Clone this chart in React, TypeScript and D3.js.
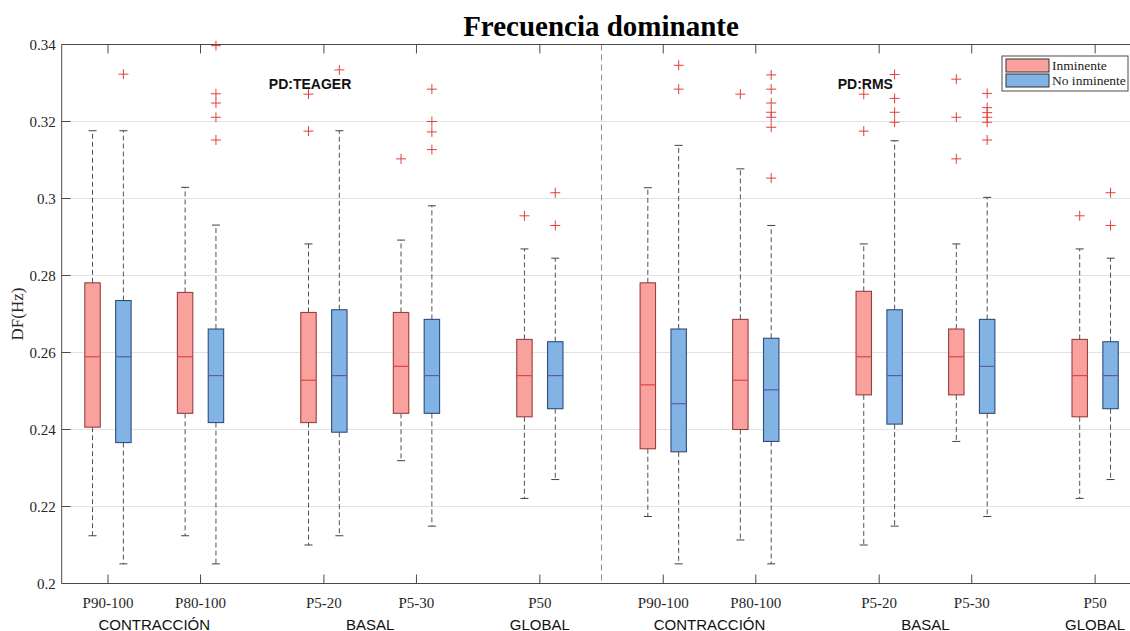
import React from "react";
import * as d3 from "d3";

// ---------- data ----------
const categories = ["P90-100", "P80-100", "P5-20", "P5-30", "P50"];
const panels = ["PD:TEAGER", "PD:RMS"];
const seriesNames = ["Inminente", "No inminente"];
const sections = [
  { label: "CONTRACCIÓN", from: 0, to: 1 },
  { label: "BASAL", from: 2, to: 3 },
  { label: "GLOBAL", from: 4, to: 4 },
];
const yTicks = [0.2, 0.22, 0.24, 0.26, 0.28, 0.3, 0.32, 0.34];

// [lower whisker, q1, median, q3, upper whisker] per category
const teagerInminente = [
  [0.2124, 0.2406, 0.2589, 0.2781, 0.3176],
  [0.2124, 0.2442, 0.2589, 0.2756, 0.3029],
  [0.21, 0.2418, 0.2528, 0.2704, 0.2882],
  [0.2319, 0.2442, 0.2564, 0.2704, 0.2892],
  [0.2221, 0.2433, 0.254, 0.2634, 0.2869],
];
const teagerInminenteOut = [[], [], [0.3271, 0.3175], [0.3103], [0.2955]];

const teagerNoInminente = [
  [0.2051, 0.2366, 0.2589, 0.2735, 0.3176],
  [0.2051, 0.2418, 0.254, 0.2661, 0.2931],
  [0.2124, 0.2393, 0.254, 0.2711, 0.3176],
  [0.2149, 0.2442, 0.254, 0.2686, 0.2981],
  [0.227, 0.2454, 0.254, 0.2628, 0.2845],
];
const teagerNoInminenteOut = [
  [0.3323],
  [0.3397, 0.3272, 0.3248, 0.3211, 0.3152],
  [0.3334],
  [0.3284, 0.32, 0.3173, 0.3127],
  [0.3015, 0.293],
];

const rmsInminente = [
  [0.2174, 0.235, 0.2516, 0.2781, 0.3028],
  [0.2113, 0.24, 0.2528, 0.2686, 0.3077],
  [0.21, 0.249, 0.2589, 0.2759, 0.2882],
  [0.2369, 0.249, 0.2589, 0.2661, 0.2882],
  [0.2221, 0.2433, 0.254, 0.2634, 0.2869],
];
const rmsInminenteOut = [[], [0.3271], [0.3271, 0.3175], [0.331, 0.3211, 0.3103], [0.2955]];

const rmsNoInminente = [
  [0.2051, 0.2342, 0.2467, 0.2661, 0.3138],
  [0.2051, 0.2369, 0.2503, 0.2637, 0.293],
  [0.2149, 0.2414, 0.254, 0.2711, 0.315],
  [0.2174, 0.2442, 0.2564, 0.2686, 0.3003],
  [0.227, 0.2454, 0.254, 0.2628, 0.2845],
];
const rmsNoInminenteOut = [
  [0.3346, 0.3284],
  [0.3321, 0.3284, 0.3248, 0.3224, 0.3211, 0.3185, 0.3053],
  [0.3322, 0.326, 0.3224, 0.3198],
  [0.3273, 0.3236, 0.3223, 0.3211, 0.3198, 0.3152],
  [0.3015, 0.293],
];

const panelStats = [
  [teagerInminente, teagerNoInminente],
  [rmsInminente, rmsNoInminente],
];
const panelOutliers = [
  [teagerInminenteOut, teagerNoInminenteOut],
  [rmsInminenteOut, rmsNoInminenteOut],
];

// ---------- layout ----------
const W = 1130;
const H = 631;
const slotUnits = [0, 3, 7, 10, 14];
const panelStart = [1, 19];
const seriesOffset = [-0.5, 0.5];
const boxHalf = 0.25;
const fills = ["#f8a19d", "#82b3e5"];
const edges = ["#9a3e3e", "#2d4c7c"];
const medians = ["#e0463f", "#5a5ea8"];
const serif = "'Liberation Serif', 'Times New Roman', serif";
const sans = "'Liberation Sans', Arial, sans-serif";

export default function App() {
  const x = d3.scaleLinear().domain([-0.5, 34.5]).range([61.7, 1141.4]);
  const y = d3.scaleLinear().domain([0.2, 0.34]).range([583.5, 44.5]);
  const [x0, x1] = x.range();
  const [yb, yt] = y.range();
  const capHalf = 4;
  const tickLen = 9;

  const tickPositions: number[] = [];
  panels.forEach((_, p) => slotUnits.forEach((u) => tickPositions.push(panelStart[p] + u)));
  const divider = (panelStart[0] + slotUnits[4] + panelStart[1]) / 2;

  return (
    <div style={{ position: "absolute", left: 0, top: 0 }}>
      <svg width={W} height={H} style={{ display: "block", background: "#fff" }}>
        <rect x={0} y={0} width={W} height={H} fill="#fff" />
        {/* grid */}
        {yTicks.map((t) => (
          <line key={"g" + t} x1={x0} x2={x1} y1={y(t)} y2={y(t)} stroke="#e2e2e2" strokeWidth={1} />
        ))}
        {/* divider */}
        <line x1={x(divider)} x2={x(divider)} y1={yt} y2={yb} stroke="#8a8a8a" strokeWidth={1} strokeDasharray="6,4" />

        {/* boxes */}
        {panels.map((_, p) =>
          panelStats[p].map((series, s) =>
            series.map((st, c) => {
              const cx = x(panelStart[p] + slotUnits[c] + seriesOffset[s]);
              const bl = x(panelStart[p] + slotUnits[c] + seriesOffset[s] - boxHalf);
              const br = x(panelStart[p] + slotUnits[c] + seriesOffset[s] + boxHalf);
              const [lo, q1, med, q3, hi] = st;
              return (
                <g key={`b${p}-${s}-${c}`}>
                  <line x1={cx} x2={cx} y1={y(q3)} y2={y(hi)} stroke="#505050" strokeWidth={1} strokeDasharray="5,3" />
                  <line x1={cx} x2={cx} y1={y(q1)} y2={y(lo)} stroke="#505050" strokeWidth={1} strokeDasharray="5,3" />
                  <line x1={cx - capHalf} x2={cx + capHalf} y1={y(hi)} y2={y(hi)} stroke="#404040" strokeWidth={1} />
                  <line x1={cx - capHalf} x2={cx + capHalf} y1={y(lo)} y2={y(lo)} stroke="#404040" strokeWidth={1} />
                  <rect x={bl} y={y(q3)} width={br - bl} height={y(q1) - y(q3)} fill={fills[s]} stroke={edges[s]} strokeWidth={1.1} />
                  <line x1={bl} x2={br} y1={y(med)} y2={y(med)} stroke={medians[s]} strokeWidth={1.2} />
                  {panelOutliers[p][s][c].map((o, k) => (
                    <g key={k} stroke="#e04038" strokeWidth={1}>
                      <line x1={cx - 5} x2={cx + 5} y1={y(o)} y2={y(o)} />
                      <line x1={cx} x2={cx} y1={y(o) - 5} y2={y(o) + 5} />
                    </g>
                  ))}
                </g>
              );
            })
          )
        )}

        {/* axes frame */}
        <line x1={x0} x2={x1} y1={yt} y2={yt} stroke="#4a4a4a" strokeWidth={1} />
        <line x1={x0} x2={x1} y1={yb} y2={yb} stroke="#4a4a4a" strokeWidth={1} />
        <line x1={x0} x2={x0} y1={yt} y2={yb} stroke="#4a4a4a" strokeWidth={1} />
        <line x1={x1} x2={x1} y1={yt} y2={yb} stroke="#4a4a4a" strokeWidth={1} />

        {/* y ticks */}
        {yTicks.map((t) => (
          <g key={"yt" + t}>
            <line x1={x0} x2={x0 + tickLen} y1={y(t)} y2={y(t)} stroke="#4a4a4a" />
            <text x={x0 - 6} y={y(t) + 5} textAnchor="end" fontFamily={serif} fontSize={15} fill="#262626">
              {String(t)}
            </text>
          </g>
        ))}

        {/* x ticks */}
        {tickPositions.map((tp, i) => (
          <g key={"xt" + i}>
            <line x1={x(tp)} x2={x(tp)} y1={yb} y2={yb - tickLen} stroke="#4a4a4a" />
            <line x1={x(tp)} x2={x(tp)} y1={yt} y2={yt + tickLen} stroke="#4a4a4a" />
            <text x={x(tp)} y={yb + 24} textAnchor="middle" fontFamily={serif} fontSize={15} fill="#262626">
              {categories[i % categories.length]}
            </text>
          </g>
        ))}

        {/* section labels */}
        {panels.map((_, p) =>
          sections.map((sec) => {
            const u = panelStart[p] + (slotUnits[sec.from] + slotUnits[sec.to]) / 2;
            return (
              <text key={`s${p}${sec.label}`} x={x(u)} y={629.5} textAnchor="middle" fontFamily={sans} fontSize={15} fill="#111">
                {sec.label}
              </text>
            );
          })
        )}

        {/* panel labels */}
        {panels.map((pl, p) => (
          <text key={pl} x={x(panelStart[p] + 6.55)} y={89} textAnchor="middle" fontFamily={sans} fontWeight="bold" fontSize={14} fill="#111">
            {pl}
          </text>
        ))}

        {/* title */}
        <text x={601} y={36} textAnchor="middle" fontFamily={serif} fontWeight="bold" fontSize={29} fill="#000">
          Frecuencia dominante
        </text>

        {/* y label */}
        <text transform={`translate(23, ${(yt + yb) / 2}) rotate(-90)`} textAnchor="middle" fontFamily={serif} fontSize={17} fill="#262626">
          DF(Hz)
        </text>

        {/* legend */}
        <g>
          <rect x={1002} y={56} width={126} height={35} fill="#fff" stroke="#4a4a4a" strokeWidth={1} />
          {seriesNames.map((n, i) => (
            <g key={n}>
              <rect x={1006} y={59 + i * 15} width={43} height={13} fill={fills[i]} stroke="#333" strokeWidth={1} />
              <text x={1052} y={70 + i * 15} fontFamily={serif} fontSize={13.5} fill="#222">
                {n}
              </text>
            </g>
          ))}
        </g>
      </svg>
    </div>
  );
}
